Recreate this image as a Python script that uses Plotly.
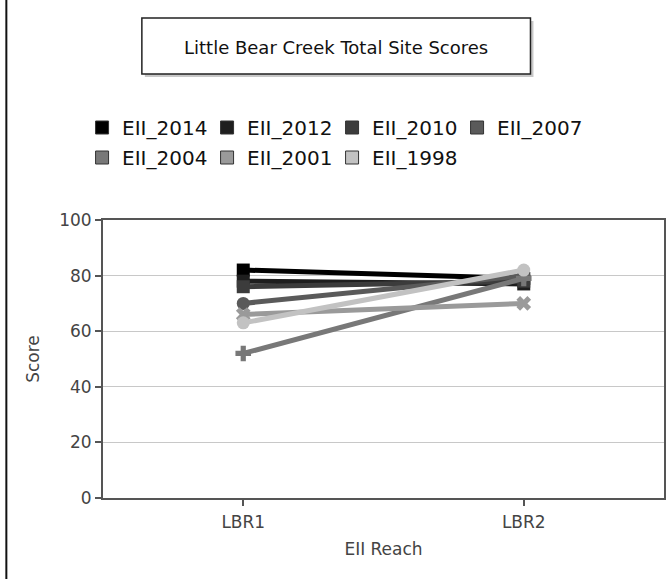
import plotly.graph_objects as go

categories = ["LBR1", "LBR2"]
series_names = ["EII_2014", "EII_2012", "EII_2010", "EII_2007", "EII_2004", "EII_2001", "EII_1998"]
values_2014 = [82, 79]
values_2012 = [78, 77]
values_2010 = [76, 78]
values_2007 = [70, 80]
values_2004 = [52, 79]
values_2001 = [66, 70]
values_1998 = [63, 82]
series_values = [values_2014, values_2012, values_2010, values_2007, values_2004, values_2001, values_1998]
colors = ["#000000", "#1e1e1e", "#3c3c3c", "#5a5a5a", "#787878", "#9a9a9a", "#c2c2c2"]
symbols = ["square", "square", "square", "circle", "cross", "x", "circle"]
legend_rows = ["legend", "legend", "legend", "legend", "legend2", "legend2", "legend2"]

FONT = "DejaVu Sans"
W, H = 671, 579
L, R, T, B = 103, 5, 220, 81
PW = W - L - R
PH = H - T - B

fig = go.Figure()
for name, vals, col, sym in zip(series_names, series_values, colors, symbols):
    fig.add_trace(go.Scatter(
        x=categories, y=vals, mode="lines+markers", name=name,
        line=dict(color=col, width=5),
        marker=dict(color=col, size=13, symbol=sym),
        showlegend=False, hoverinfo="skip",
    ))
# legend entries
for name, col, lg in zip(series_names, colors, legend_rows):
    fig.add_trace(go.Scatter(
        x=[None], y=[None], mode="markers", name=name, legend=lg,
        marker=dict(color=col, size=13, symbol="square", line=dict(color="#333333", width=1)),
        showlegend=True,
    ))

def px_x(p):
    return (p - L) / PW

def px_y(p):
    return (H - B - p) / PH

shapes = []
# title box shadow and box
shapes.append(dict(type="rect", xref="paper", yref="paper",
                   x0=px_x(145), x1=px_x(535), y0=px_y(21), y1=px_y(77),
                   line=dict(width=0), fillcolor="#c8c8c8", layer="below"))
shapes.append(dict(type="rect", xref="paper", yref="paper",
                   x0=px_x(142), x1=px_x(532), y0=px_y(18), y1=px_y(74),
                   line=dict(color="#222222", width=1.5), fillcolor="white", layer="below"))
# left outer border
shapes.append(dict(type="line", xref="paper", yref="paper",
                   x0=px_x(6), x1=px_x(6), y0=px_y(0), y1=px_y(579),
                   line=dict(color="#111111", width=2)))

legend_common = dict(orientation="h", xanchor="left", yanchor="top",
                     font=dict(family=FONT, size=20, color="#111111"),
                     entrywidth=80, entrywidthmode="pixels",
                     bgcolor="rgba(0,0,0,0)", itemclick=False, itemdoubleclick=False)

fig.update_layout(
    width=W, height=H,
    margin=dict(l=L, r=R, t=T, b=B, pad=0),
    paper_bgcolor="white", plot_bgcolor="white",
    font=dict(family=FONT, color="#333333"),
    shapes=shapes,
    annotations=[dict(text="Little Bear Creek Total Site Scores", xref="paper", yref="paper",
                      x=px_x(337), y=px_y(47), showarrow=False,
                      font=dict(family=FONT, size=18, color="#111111"),
                      xanchor="center", yanchor="middle")],
    legend=dict(x=px_x(82), y=px_y(108), **legend_common),
    legend2=dict(x=px_x(82), y=px_y(138), **legend_common),
    showlegend=True,
)
fig.update_xaxes(
    type="category", range=[-0.5, 1.5],
    showline=True, linecolor="#555555", linewidth=2, mirror=True,
    ticks="outside", ticklen=6, tickcolor="#555555", tickwidth=2,
    showgrid=False, zeroline=False, ticklabelstandoff=2,
    tickfont=dict(family=FONT, size=17, color="#444444"),
    title=dict(text="EII Reach", font=dict(family=FONT, size=17, color="#444444"), standoff=12),
)
fig.update_yaxes(
    range=[0, 100], tickvals=[0, 20, 40, 60, 80, 100],
    showline=True, linecolor="#555555", linewidth=2, mirror=True,
    ticks="outside", ticklen=6, tickcolor="#555555", tickwidth=2,
    showgrid=True, gridcolor="#c8c8c8", gridwidth=1, zeroline=False,
    tickfont=dict(family=FONT, size=17, color="#444444"),
    title=dict(text="Score", font=dict(family=FONT, size=17, color="#444444"), standoff=15),
)
fig.write_html("out.html", config={"displayModeBar": False},
               post_script="document.body.style.margin='0';document.body.style.padding='0';")
